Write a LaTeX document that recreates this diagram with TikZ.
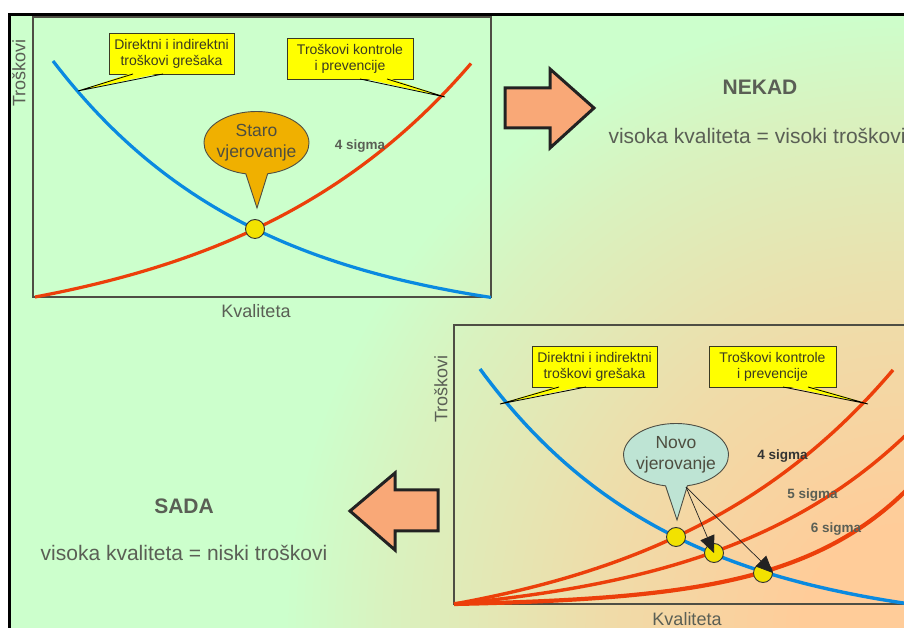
\documentclass[tikz,border=0pt]{standalone}
\usepackage{fontspec}
\setmainfont{Liberation Sans}
\usepackage{tikz}
\usetikzlibrary{arrows.meta,shapes.callouts}
\usepackage{xcolor}
\definecolor{bggreen}{HTML}{CCFFCC}
\definecolor{bgorange}{HTML}{FFCC99}
\colorlet{bgmida}{bgorange!70!bggreen}
\colorlet{bgmidb}{bgorange!25!bggreen}
\definecolor{costblue}{HTML}{0A8AE0}
\definecolor{costred}{HTML}{EC3F0A}
\definecolor{noteyellow}{HTML}{FFFF00}
\definecolor{noteink}{HTML}{3A3A22}
\definecolor{oldidea}{HTML}{F0B000}
\definecolor{newidea}{HTML}{BEE4D4}
\definecolor{bubbleink}{HTML}{4E4E40}
\definecolor{dotyellow}{HTML}{F2E200}
\definecolor{dotink}{HTML}{333333}
\definecolor{salmon}{HTML}{F9A877}
\definecolor{arrowink}{HTML}{222222}
\definecolor{ink}{HTML}{5A5F55}
\definecolor{frameink}{HTML}{4E4E44}
\pgfdeclareradialshading{bgglow}{\pgfpoint{0bp}{0bp}}{color(0bp)=(bgorange); color(4bp)=(bgorange); color(12bp)=(bgmida); color(21bp)=(bgmidb); color(25bp)=(bggreen); color(50bp)=(bggreen)}
\newcommand{\pxfont}[2]{\fontsize{#1}{#2}\selectfont}

\begin{document}
\begin{tikzpicture}[x=1pt,y=1pt,
  panel/.style={draw=frameink,line width=1.3pt},
  meetdot/.style={circle,draw=dotink,fill=dotyellow,line width=0.9pt,minimum size=19pt,inner sep=0pt},
  notebox/.style={draw=noteink,fill=noteyellow,line width=0.9pt,text=noteink,align=center,minimum height=41pt,inner sep=1pt,font=\pxfont{14}{16}},
  wedge/.style={draw=black,line width=0.8pt},
  bubble/.style={ellipse callout,draw=frameink,line width=0.9pt,minimum width=105pt,minimum height=63pt,inner xsep=-4pt,inner ysep=0pt,callout pointer arc=24,align=center,text=bubbleink,font=\pxfont{17.5}{21}},
  sigma/.style={font=\pxfont{13.5}{16}\bfseries},
  blockarrow/.style={fill=salmon,draw=arrowink,line width=3pt,line join=miter},
  pick/.style={draw=arrowink,line width=0.7pt,-{Triangle[length=17pt,width=15pt]}},
  axislab/.style={text=ink,font=\pxfont{18}{20}},
  headline/.style={text=ink,font=\pxfont{21}{24}\bfseries},
  slogan/.style={text=ink,font=\pxfont{21}{24}}]
  \useasboundingbox (0,0) rectangle (904,628);
  % background
  \begin{scope}
    \clip (9,-5) rectangle (910,613);
    \fill[bggreen] (9,-5) rectangle (910,613);
    \shade[shading=bgglow] (284,-620) rectangle (1524,620);
  \end{scope}
  \draw[line width=3pt] (9,-5) -- (9,613) -- (910,613);

  % old belief
  \draw[panel] (33,331) rectangle (491,611);
  \draw[costblue,line width=3.2pt] plot[domain=53:491,samples=80] (\x,{299+268*exp(-0.00488*(\x-53))});
  \draw[costred,line width=3.2pt] plot[domain=35:471,samples=80] (\x,{286+45*exp(0.004183*(\x-35))});
  \node[meetdot] (dotold) at (255,399) {};
  \node[axislab,rotate=90] (ylabtop) at (19,555) {Troškovi};
  \node[axislab,anchor=base] (xlabtop) at (256,310) {Kvaliteta};
  \node[sigma,text=ink] (sig4top) at (360,482) {4 sigma};

  \node[notebox,minimum width=125pt] (errtop) at (171.5,574.5) {Direktni i indirektni\\troškovi grešaka};
  \coordinate (errtoptip) at (78,537);
  \fill[noteyellow] (133,555.5) -- (errtoptip) -- (163,555.5) -- cycle;
  \draw[wedge] (133,554) -- (errtoptip) -- (163,554);
  \node[notebox,minimum width=126pt] (ctrltop) at (350,569.5) {Troškovi kontrole\\i prevencije};
  \coordinate (ctrltoptip) at (445,531);
  \fill[noteyellow] (360,550.5) -- (ctrltoptip) -- (387,550.5) -- cycle;
  \draw[wedge] (360,549) -- (ctrltoptip) -- (387,549);

  \coordinate (starotip) at (257,420);
  \node[bubble,fill=oldidea,callout absolute pointer={(starotip)}] (staro) at (256.5,485) {Staro\\vjerovanje};

  \draw[blockarrow] (505,540) -- (550,540) -- (550,559) -- (594,520) -- (550,480) -- (550,500) -- (505,500) -- cycle;
  \node[headline] (nekad) at (760,541) {NEKAD};
  \node[slogan,anchor=west] (nekadtxt) at (605,492) {visoka kvaliteta = visoki troškovi};

  % new belief
  \draw[panel] (454,24) rectangle (925,303);
  \draw[costblue,line width=3.4pt] plot[domain=480:904,samples=80] (\x,{-4.3+263.3*exp(-0.005184*(\x-480))});
  \foreach \b/\a/\k/\e/\w in {-18.7/42.7/0.004252/893/3.4, 4.95/19.05/0.005063/910/3.4, 21.46/2.54/0.008447/910/4.2} {
    \draw[costred,line width=\w pt] plot[domain=454:\e,samples=90] (\x,{\b+\a*exp(\k*(\x-454))});
  }
  \node[meetdot] (dot4) at (676,91) {};
  \node[meetdot] (dot5) at (714,75) {};
  \node[meetdot] (dot6) at (763,55) {};
  \node[axislab,rotate=90] (ylabbot) at (441,239) {Troškovi};
  \node[axislab,anchor=base] (xlabbot) at (687,2) {Kvaliteta};
  \node[sigma,text=dotink] (sig4) at (782.5,172) {4 sigma};
  \node[sigma,text=ink] (sig5) at (812.5,133) {5 sigma};
  \node[sigma,text=ink] (sig6) at (836,99) {6 sigma};

  \node[notebox,minimum width=125pt] (errbot) at (594.5,261.5) {Direktni i indirektni\\troškovi grešaka};
  \coordinate (errbottip) at (500,224);
  \fill[noteyellow] (559,242.5) -- (errbottip) -- (586,242.5) -- cycle;
  \draw[wedge] (559,241) -- (errbottip) -- (586,241);
  \node[notebox,minimum width=127pt] (ctrlbot) at (772.5,261.5) {Troškovi kontrole\\i prevencije};
  \coordinate (ctrlbottip) at (868,224);
  \fill[noteyellow] (783,242.5) -- (ctrlbottip) -- (808,242.5) -- cycle;
  \draw[wedge] (783,241) -- (ctrlbottip) -- (808,241);

  \coordinate (novotip) at (677,108);
  \node[bubble,fill=newidea,callout absolute pointer={(novotip)}] (novo) at (676,173) {Novo\\vjerovanje};
  \coordinate (novofrom) at (686,141);
  \draw[pick] (novofrom) -- (dot5.center);
  \draw[pick] (novofrom) -- (dot6.east);

  \draw[blockarrow] (438,138) -- (395,138) -- (395,155) -- (350,117) -- (395,78) -- (395,97) -- (438,97) -- cycle;
  \node[headline] (sada) at (184,122) {SADA};
  \node[slogan] (sadatxt) at (184,75) {visoka kvaliteta = niski troškovi};
\end{tikzpicture}
\end{document}
